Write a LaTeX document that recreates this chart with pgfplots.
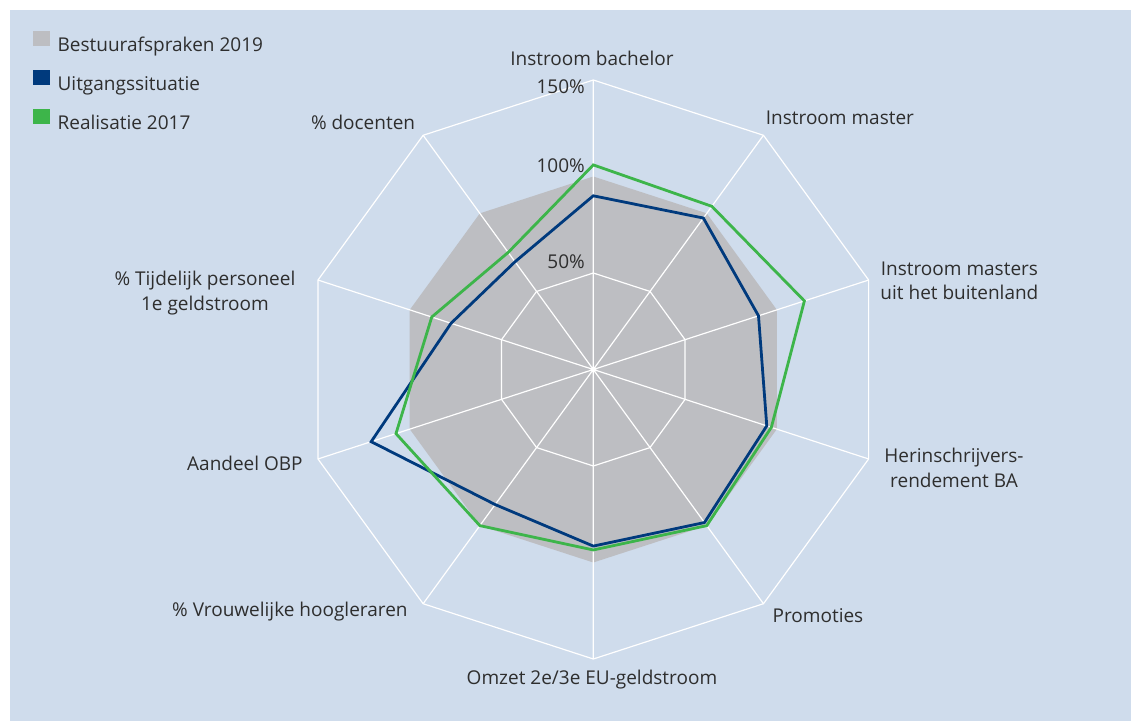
\documentclass[border=0pt]{standalone}
\usepackage{pgfplots}
\pgfplotsset{compat=1.18}
\usepackage{fontspec}
\setmainfont{Open Sans}
\definecolor{bgblue}{HTML}{CFDCEC}
\definecolor{bargray}{HTML}{BDBEC2}
\definecolor{navy}{HTML}{003A7D}
\definecolor{lgreen}{HTML}{3DB54A}
\definecolor{txt}{HTML}{2E2E2E}
\tikzset{lbl/.style={font=\fontsize{19}{24.5}\selectfont, text=txt, inner sep=0pt}}
\begin{document}
\begin{tikzpicture}[x=1pt,y=1pt]
\fill[white] (0,0) rectangle (1131,721);
\fill[bgblue] (10,0) rectangle (1131,711);
\begin{axis}[at={(593.3pt,351.5pt)}, anchor=origin,
  x=1.93pt, y=1.93pt, xmin=-150, xmax=150, ymin=-150, ymax=150,
  hide axis, clip=false,
  legend style={at={(axis cs:-290.3,175.5)}, anchor=north west, draw=none, fill=none,
    inner sep=0pt, row sep=17pt, column sep=8pt, font=\fontsize{19}{22}\selectfont, text=txt,
    nodes={inner sep=0pt}},
  legend cell align=left]
% gray area
\addplot[data cs=polar, fill=bargray, draw=none, forget plot] coordinates {
 (90,100) (54,100) (18,100) (-18,100) (-54,100) (-90,100) (-126,100) (-162,100) (-198,100) (-234,100) (90,100)} -- cycle;
% grid rings
\addplot[data cs=polar, draw=white, line width=1.2pt, forget plot] coordinates {
 (90,50) (54,50) (18,50) (-18,50) (-54,50) (-90,50) (-126,50) (-162,50) (-198,50) (-234,50) (90,50)};
\addplot[data cs=polar, draw=white, line width=1.2pt, forget plot] coordinates {
 (90,150) (54,150) (18,150) (-18,150) (-54,150) (-90,150) (-126,150) (-162,150) (-198,150) (-234,150) (90,150)};
% spokes
\addplot[data cs=polar, draw=white, line width=1.2pt, forget plot] coordinates {
 (90,150) (0,0) (54,150) (0,0) (18,150) (0,0) (-18,150) (0,0) (-54,150) (0,0)
 (-90,150) (0,0) (-126,150) (0,0) (-162,150) (0,0) (-198,150) (0,0) (-234,150)};
% Uitgangssituatie
\addplot[data cs=polar, draw=navy, line width=2.8pt, forget plot] coordinates {
 (90,90) (54,97) (18,90) (-18,94.5) (-54,98) (-90,91.5) (-126,86.5) (-162,121) (-198,77.5) (-234,69) (90,90)} -- cycle;
% Realisatie 2017
\addplot[data cs=polar, draw=lgreen, line width=2.8pt, forget plot] coordinates {
 (90,106) (54,104.5) (18,115) (-18,97) (-54,100) (-90,93.5) (-126,100) (-162,107.5) (-198,88) (-234,75) (90,106)} -- cycle;
% legend
\addlegendimage{legend image code/.code={\fill[bargray] (0pt,0pt) rectangle (16pt,14pt);}}
\addlegendentry{Bestuurafspraken 2019}
\addlegendimage{legend image code/.code={\fill[navy] (0pt,0pt) rectangle (16pt,14pt);}}
\addlegendentry{Uitgangssituatie}
\addlegendimage{legend image code/.code={\fill[lgreen] (0pt,0pt) rectangle (16pt,14pt);}}
\addlegendentry{Realisatie 2017}
% tick labels
\node[lbl, anchor=east] at (axis cs:-4.3,146.4) {150\%};
\node[lbl, anchor=east] at (axis cs:-4.3,105.4) {100\%};
\node[lbl, anchor=east] at (axis cs:-4.3,55.7) {50\%};
% category labels
\node[lbl, align=center] at (axis cs:-0.7,161.4) {Instroom bachelor};
\node[lbl, align=center] at (axis cs:127.8,130.3) {Instroom master};
\node[lbl, align=center] at (axis cs:189.7,45.9) {Instroom masters\\uit het buitenland};
\node[lbl, align=center] at (axis cs:186.9,-51.0) {Herinschrijvers-\\rendement BA};
\node[lbl, align=center] at (axis cs:116.4,-127.7) {Promoties};
\node[lbl, align=center] at (axis cs:-0.7,-160.9) {Omzet 2e/3e EU-geldstroom};
\node[lbl, align=center] at (axis cs:-157.2,-125.6) {\% Vrouwelijke hoogleraren};
\node[lbl, align=center] at (axis cs:-180.5,-48.4) {Aandeel OBP};
\node[lbl, align=center] at (axis cs:-201.2,39.6) {\% Tijdelijk personeel\\1e geldstroom};
\node[lbl, align=center] at (axis cs:-119.3,128.2) {\% docenten};
\end{axis}
\end{tikzpicture}
\end{document}
